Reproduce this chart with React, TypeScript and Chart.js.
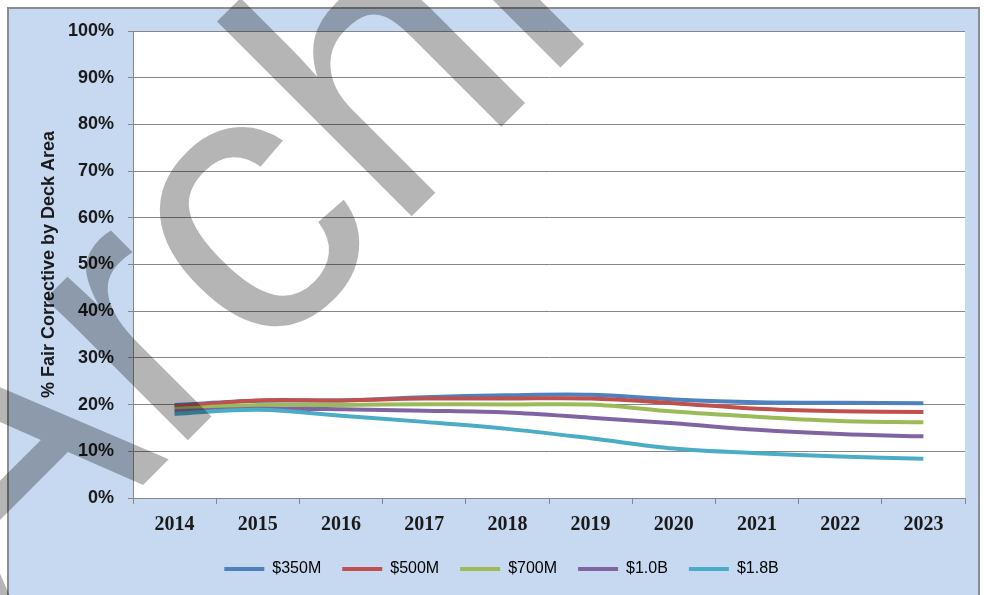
import React, { useEffect, useRef } from "react";
import { Chart, registerables } from "chart.js";

Chart.register(...registerables);

const years = ["2014", "2015", "2016", "2017", "2018", "2019", "2020", "2021", "2022", "2023"];
const s350M = [19.9, 20.8, 20.9, 21.6, 22.0, 22.1, 21.1, 20.5, 20.4, 20.3];
const s500M = [19.6, 20.9, 20.9, 21.3, 21.3, 21.3, 20.3, 19.1, 18.6, 18.4];
const s700M = [19.1, 19.9, 19.9, 20.1, 20.0, 20.0, 18.5, 17.4, 16.5, 16.2];
const s1_0B = [18.6, 19.1, 19.0, 18.7, 18.3, 17.2, 16.0, 14.6, 13.7, 13.2];
const s1_8B = [18.0, 18.9, 17.6, 16.3, 14.8, 12.8, 10.6, 9.6, 8.9, 8.4];
const seriesNames = ["$350M", "$500M", "$700M", "$1.0B", "$1.8B"];
const seriesValues = [s350M, s500M, s700M, s1_0B, s1_8B];
const seriesColors = ["#4f81bd", "#c0504d", "#9bbb59", "#8064a2", "#4bacc6"];
const yAxisTitle = "% Fair Corrective by Deck Area";
const watermarkText = "Archived";

export default function App() {
  const ref = useRef<HTMLCanvasElement>(null);

  useEffect(() => {
    const canvas = ref.current;
    if (!canvas) return;

    const bgPlugin = {
      id: "panelBg",
      beforeDraw(chart: any) {
        const { ctx, chartArea } = chart;
        ctx.save();
        ctx.fillStyle = "#ffffff";
        ctx.fillRect(0, 0, 984, 595);
        ctx.fillStyle = "#c6d9f1";
        ctx.fillRect(8, 8, 971, 600);
        ctx.strokeStyle = "#8c8c8c";
        ctx.lineWidth = 2;
        ctx.strokeRect(8, 8, 971, 600);
        ctx.fillStyle = "#ffffff";
        ctx.fillRect(chartArea.left, chartArea.top, chartArea.right - chartArea.left, chartArea.bottom - chartArea.top);
        ctx.restore();
      },
      afterDraw(chart: any) {
        const ctx = chart.ctx;
        ctx.save();
        ctx.translate(-10, 638);
        ctx.rotate(-Math.PI / 4);
        ctx.font = '380px "Liberation Sans"';
        ctx.fillStyle = "rgba(0,0,0,0.29)";
        ctx.textBaseline = "alphabetic";
        ctx.textAlign = "left";
        ctx.fillText(watermarkText, 0, 0);
        ctx.restore();
      },
    };

    const chart = new Chart(canvas, {
      type: "line",
      data: {
        labels: years,
        datasets: seriesNames.map((name, i) => ({
          label: name,
          data: seriesValues[i],
          borderColor: seriesColors[i],
          backgroundColor: seriesColors[i],
          borderWidth: 4,
          pointRadius: 0,
          tension: 0.35,
          fill: false,
          order: seriesNames.length - i,
        })),
      },
      options: {
        responsive: false,
        animation: false,
        devicePixelRatio: 1,
        layout: { padding: { left: 38, right: 19, top: 31, bottom: 8 } },
        plugins: {
          tooltip: { enabled: false },
          legend: {
            position: "bottom",
            labels: {
              boxWidth: 40,
              boxHeight: 4,
              padding: 21,
              color: "#333333",
              font: { family: '"Liberation Sans", sans-serif', size: 16 },
              generateLabels: (ch: any) =>
                ch.data.datasets.map((ds: any, i: number) => ({
                  text: ds.label,
                  fillStyle: ds.borderColor,
                  strokeStyle: ds.borderColor,
                  lineWidth: 0,
                  hidden: false,
                  datasetIndex: i,
                })),
            },
          },
        },
        scales: {
          x: {
            type: "category",
            offset: true,
            grid: {
              offset: true,
              drawOnChartArea: false,
              drawTicks: true,
              tickLength: 6,
              color: "#868686",
            },
            border: { display: true, color: "#868686" },
            ticks: {
              color: "#1a1a1a",
              padding: 9,
              maxRotation: 0,
              font: { family: '"Liberation Serif", serif', size: 20, weight: "bold" },
            },
            afterFit(scale: any) {
              scale.height = 42;
            },
          },
          y: {
            min: 0,
            max: 100,
            ticks: {
              stepSize: 10,
              color: "#1a1a1a",
              padding: 14,
              font: { family: '"Liberation Sans", sans-serif', size: 18, weight: "bold" },
              callback: (v: any) => `${v}%`,
            },
            grid: { color: "#868686", tickLength: 5 },
            border: { display: true, color: "#868686" },
            title: {
              display: true,
              text: yAxisTitle,
              color: "#1a1a1a",
              padding: { top: 0, bottom: 0 },
              font: { family: '"Liberation Sans", sans-serif', size: 18, weight: "bold" },
            },
            afterFit(scale: any) {
              scale.width = 95;
            },
          },
        },
      },
      plugins: [bgPlugin],
    } as any);

    return () => chart.destroy();
  }, []);

  return (
    <div style={{ position: "fixed", left: 0, top: 0, width: 984, height: 595 }}>
      <canvas ref={ref} width={984} height={595} style={{ display: "block", width: 984, height: 595 }} />
    </div>
  );
}
